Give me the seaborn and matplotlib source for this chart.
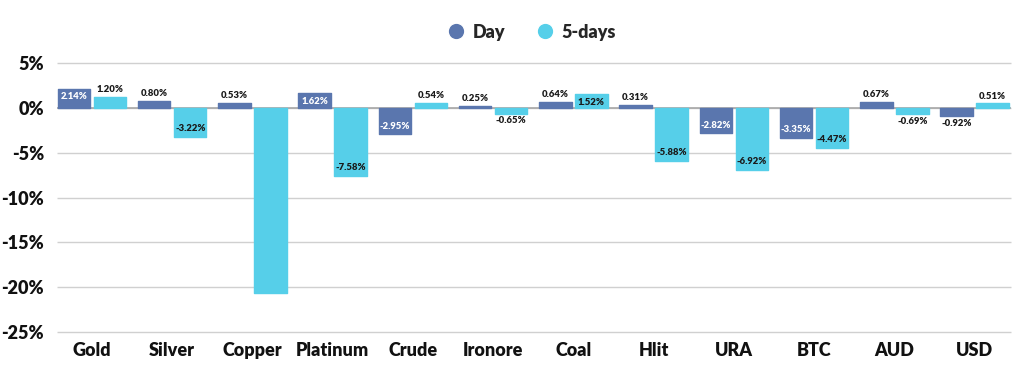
import matplotlib
matplotlib.use("Agg")
import matplotlib.pyplot as plt
import seaborn as sns
import pandas as pd
from matplotlib.lines import Line2D

categories = ["Gold", "Silver", "Copper", "Platinum", "Crude", "Ironore", "Coal", "Hlit", "URA", "BTC", "AUD", "USD"]
day_values = [2.14, 0.80, 0.53, 1.62, -2.95, 0.25, 0.64, 0.31, -2.82, -3.35, 0.67, -0.92]
five_day_values = [1.20, -3.22, -20.65, -7.58, 0.54, -0.65, 1.52, -5.88, -6.92, -4.47, -0.69, 0.51]
series_names = ["Day", "5-days"]
show_label_5d = [True, True, False, True, True, True, True, True, True, True, True, True]
y_ticks = [5, 0, -5, -10, -15, -20, -25]

DAY_C = "#5a76ae"
FIVE_C = "#56cfe9"

sns.set_theme(style="white")
plt.rcParams["font.family"] = ["Lato", "DejaVu Sans"]

df = pd.DataFrame({
    "cat": categories * 2,
    "series": [series_names[0]] * len(categories) + [series_names[1]] * len(categories),
    "val": day_values + five_day_values,
})

fig = plt.figure(figsize=(10.24, 3.77), dpi=100)
ax = fig.add_axes([0.0459, 0.112, 0.945, 0.728])

ax.hlines(y_ticks, -0.44, 11.45, color="#d0d0d0", lw=1.0, zorder=0)
ax.hlines([0], -0.44, 11.45, color="#a8a8a8", lw=1.2, zorder=0.5)

sns.barplot(data=df, x="cat", y="val", hue="series", order=categories,
            hue_order=series_names, palette=[DAY_C, FIVE_C], width=0.9, gap=0.1,
            ax=ax, legend=False, saturation=1, zorder=2)

for patch in ax.patches:
    patch.set_edgecolor(patch.get_facecolor())
    patch.set_linewidth(1.0)
    patch.set_joinstyle("round")

containers = ax.containers
for si, (cont, vals) in enumerate(zip(containers, [day_values, five_day_values])):
    for i, (bar, v) in enumerate(zip(cont, vals)):
        if si == 1 and not show_label_5d[i]:
            continue
        x = bar.get_x() + bar.get_width() / 2
        txt = f"{v:.2f}%"
        if abs(v) >= 1.5:
            col = "white" if si == 0 else "#1a1a1a"
            if v > 0:
                y, va = v - 0.4, "top"
            else:
                y, va = v + 0.4, "bottom"
        else:
            col = "#1a1a1a"
            if v >= 0:
                y, va = v + 0.3, "bottom"
            else:
                y, va = v - 0.3, "top"
        ax.text(x, y, txt, ha="center", va=va, fontsize=6.8, fontweight="heavy",
                color=col, zorder=3)

ax.set_ylim(-25.3, 5.3)
ax.set_xlim(-0.56, 11.5)
ax.set_yticks(y_ticks)
ax.set_yticklabels([f"{t}%" for t in y_ticks])
ax.set_xlabel("")
ax.set_ylabel("")
ax.tick_params(axis="both", length=0, labelsize=13, colors="#111111")
ax.tick_params(axis="x", pad=5)
ax.tick_params(axis="y", pad=2)
for lab in ax.get_xticklabels() + ax.get_yticklabels():
    lab.set_fontweight("heavy")
for s in ax.spines.values():
    s.set_visible(False)

handles = [Line2D([0], [0], marker="o", color="w", markerfacecolor=c, markersize=12, lw=0)
           for c in [DAY_C, FIVE_C]]
leg = fig.legend(handles, series_names, loc="center", bbox_to_anchor=(0.518, 0.915), ncol=2,
                 frameon=False, prop={"weight": "heavy", "size": 13}, handletextpad=0.3,
                 columnspacing=1.6, handlelength=1.2)

fig.savefig("out.png", dpi=100)
